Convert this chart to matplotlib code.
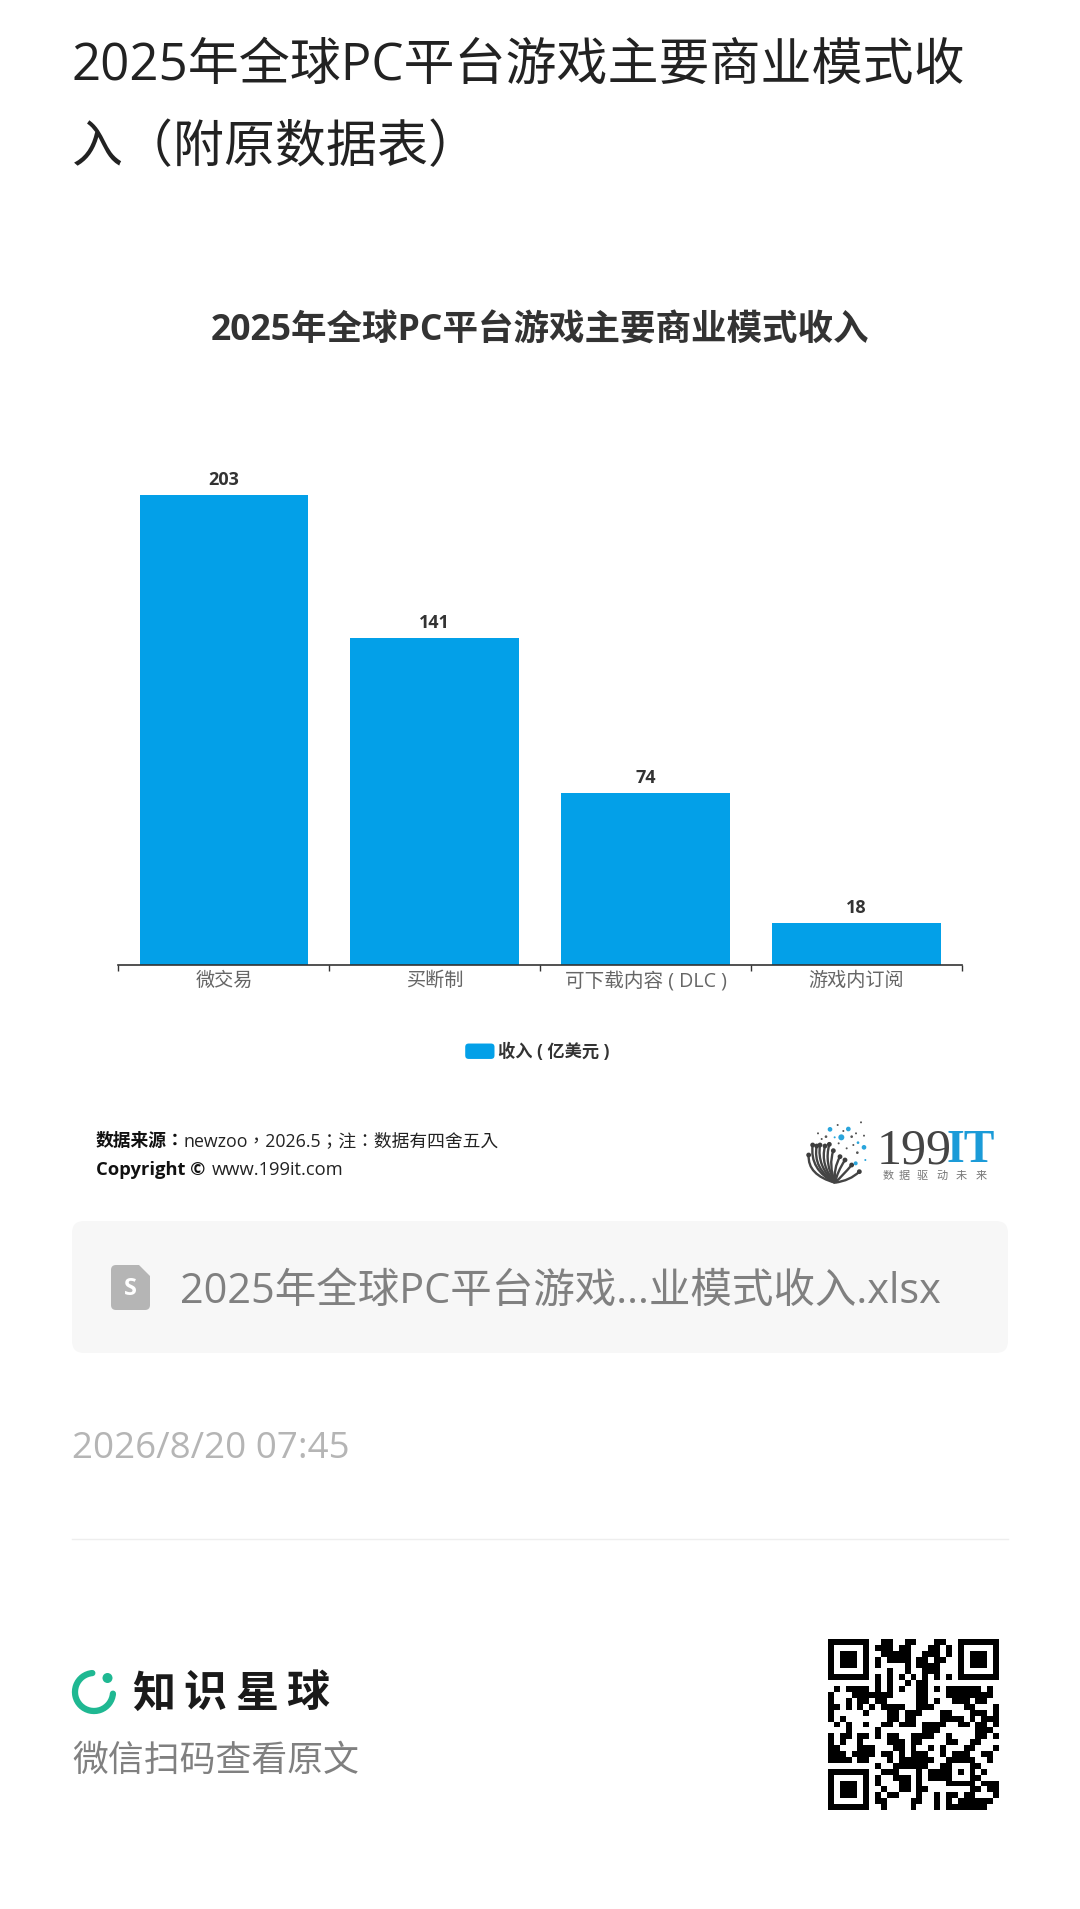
import matplotlib
matplotlib.use("Agg")
import matplotlib.pyplot as plt
from matplotlib.legend_handler import HandlerPatch
from matplotlib.patches import FancyBboxPatch, Arc, Circle, Polygon, PathPatch, Rectangle
from matplotlib.path import Path
import numpy as np

plt.rcParams['font.family'] = ['Open Sans', 'Noto Sans CJK SC', 'DejaVu Sans']
FUENTE_TC = ['Open Sans', 'Noto Sans CJK TC', 'DejaVu Sans']

# datos del grafico
categorias = ["微交易", "买断制", "可下载内容 ( DLC )", "游戏内订阅"]
ingresos = [203, 141, 74, 18]
leyenda = "收入 ( 亿美元 )"
titulo_pagina = ["2025年全球PC平台游戏主要商业模式收", "入（附原数据表）"]
titulo_grafico = "2025年全球PC平台游戏主要商业模式收入"
archivo = "2025年全球PC平台游戏...业模式收入.xlsx"
fecha = "2026/8/20 07:45"

# filas del codigo QR: columnas negras (sin los tres cuadros de las esquinas)
qr_filas = [
    [9, 10, 13, 14, 18, 19],
    [8, 9, 10, 12, 13, 17, 18, 20],
    [9, 10, 11, 12, 13, 16, 17, 18, 20],
    [8, 10, 11, 12, 13, 15, 16, 18, 19],
    [8, 13, 15, 16, 17, 18],
    [10, 13, 16, 17, 18],
    [8, 10, 12, 14, 16, 18, 20],
    [8, 10, 13, 15, 16],
    [1, 3, 4, 5, 6, 8, 10, 12, 15, 16, 18, 20, 21, 22, 23, 24, 25, 27],
    [0, 4, 5, 6, 7, 8, 9, 10, 15, 16, 20, 21, 22, 23, 24, 25, 26, 27],
    [0, 3, 5, 6, 8, 9, 15, 16, 18, 21, 22, 23, 25, 26],
    [0, 1, 3, 5, 7, 9, 10, 11, 12, 15, 16, 17, 23, 24, 28],
    [0, 6, 10, 11, 13, 14, 15, 19, 20, 24, 25, 26, 28],
    [0, 2, 10, 11, 13, 14, 19, 20, 21, 22, 24, 26, 27, 28],
    [1, 3, 6, 9, 10, 12, 13, 14, 16, 17, 18, 19, 22, 23, 25, 26, 28],
    [3, 8, 16, 17, 18, 25, 26, 27],
    [0, 2, 3, 5, 6, 8, 10, 11, 14, 15, 16, 17, 20, 25, 26, 28],
    [0, 2, 5, 10, 11, 12, 14, 15, 20, 21, 24, 25],
    [0, 1, 5, 6, 7, 11, 12, 14, 17, 19, 23, 24, 28],
    [0, 1, 2, 4, 5, 6, 7, 9, 10, 12, 14, 15, 16, 19, 21, 22, 23, 26, 27],
    [0, 1, 2, 3, 5, 6, 10, 12, 13, 14, 15, 16, 17, 20, 21, 22, 23, 24, 27],
    [8, 11, 12, 13, 14, 15, 16, 19, 20, 24, 25],
    [9, 10, 11, 15, 17, 18, 19, 20, 22, 24, 26],
    [8, 11, 12, 13, 15, 17, 18, 19, 20, 24, 25],
    [8, 12, 13, 15, 20, 21, 22, 23, 24, 26, 27, 28],
    [9, 12, 13, 15, 16, 24, 25, 27, 28],
    [8, 10, 11, 15, 18, 20, 21, 23, 24, 28],
    [8, 9, 14, 15, 18, 20, 22, 23, 24, 25, 26, 27],
    [9, 14, 18, 20, 21, 22, 23, 24, 25, 26],
]

# logo 199IT, en pixeles del recorte
logo_azul = [(90, 58, 7), (145, 57, 7), (124, 82, 9), (192, 112, 7), (167, 160, 6), (174, 98, 4), (104, 82, 3), (196, 150, 3)]
logo_gris = [(113, 45, 3), (183, 37, 3), (130, 63, 3), (192, 77, 3), (78, 80, 4), (54, 70, 3), (155, 80, 4), (168, 70, 3),
             (160, 105, 3), (116, 100, 3), (140, 115, 3), (172, 128, 4), (65, 87, 3)]
logo_tallos = [(26, 135, 22, 195), (38, 105, 28, 180), (50, 108, 38, 175), (60, 105, 50, 170), (75, 108, 60, 165),
               (88, 103, 72, 160), (100, 122, 85, 165), (120, 140, 100, 175), (135, 150, 112, 185),
               (155, 165, 130, 195), (178, 185, 150, 212)]

W, H = 1080, 1909
AZUL = "#03a0e8"

fig = plt.figure(figsize=(W / 100, H / 100), dpi=100, facecolor="white")

# capa de fondo en pixeles
fondo = fig.add_axes([0, 0, 1, 1])
fondo.axis("off")


def texto(x, y, s, size, color, **kw):
    kw.setdefault("va", "center")
    return fondo.text(x, y, s, fontsize=size, color=color, **kw)


def cuadro_qr():
    m = np.zeros((29, 29))
    for r, cols in enumerate(qr_filas):
        m[r, cols] = 1
    for r0, c0 in [(0, 0), (0, 22), (22, 0)]:
        m[r0:r0 + 7, c0:c0 + 7] = 1
        m[r0 + 1:r0 + 6, c0 + 1:c0 + 6] = 0
        m[r0 + 2:r0 + 5, c0 + 2:c0 + 5] = 1
    fondo.imshow(m, cmap="gray_r", vmin=0, vmax=1, extent=(828, 999, 1810, 1639), aspect="auto", interpolation="nearest")


def logo_199it():
    lx = lambda v: 800 + v / 3
    ly = lambda v: 1110 + v / 3
    for hx, hy, cx, cy in logo_tallos:
        camino = Path([(lx(105), ly(218)), (lx(cx), ly(cy)), (lx(hx), ly(hy))], [Path.MOVETO, Path.CURVE3, Path.CURVE3])
        fondo.add_patch(PathPatch(camino, fc="none", ec="#444444", lw=1.7))
        fondo.add_patch(Circle((lx(hx), ly(hy)), 2.4, fc="#3d3d3d", ec="none"))
    for x, y, r in logo_azul:
        fondo.add_patch(Circle((lx(x), ly(y)), r / 3, fc="#2aa5dc", ec="none"))
    for x, y, r in logo_gris:
        fondo.add_patch(Circle((lx(x), ly(y)), r / 3, fc="#555555", ec="none"))
    texto(914, 1151, "199", 36, "#444444", family="Liberation Serif", ha="center")
    texto(971, 1151, "IT", 33, "#1b9bd8", family="Liberation Serif", ha="center", fontweight="bold")
    for cx, c in zip([888, 904, 922, 942, 961, 981], "数据驱动未来"):
        texto(cx, 1176, c, 8, "#777777", ha="center")


def muestra_redonda(legend, orig_handle, xdescent, ydescent, width, height, fontsize):
    return FancyBboxPatch((-xdescent + 2, -ydescent + 2), width - 4, height - 4, boxstyle="round,pad=2,rounding_size=2.5")


# titulo de la pagina
texto(72, 66, titulo_pagina[0], 36.7, "#222222")
texto(72, 149, titulo_pagina[1], 36.7, "#222222")

# titulo del grafico
texto(540, 331.5, titulo_grafico, 25.6, "#333333", ha="center", fontweight="bold")

# pie del grafico
texto(95.5, 1141, "数据来源：", 12.8, "#111111", fontweight="bold", family=FUENTE_TC)
texto(183.5, 1141, "newzoo，2026.5；注：数据有四舍五入", 12.8, "#222222", family=FUENTE_TC)
texto(95.5, 1170, "Copyright ©", 13.2, "#111111", fontweight="bold")
texto(212, 1170, "www.199it.com", 13.2, "#222222")
logo_199it()

# tarjeta del archivo
fondo.add_patch(FancyBboxPatch((82, 1231), 916, 112, boxstyle="round,pad=10,rounding_size=12", fc="#f7f7f7", ec="none"))
fondo.add_patch(FancyBboxPatch((115, 1269), 31, 37, boxstyle="round,pad=4,rounding_size=5", fc="#b5b5b5", ec="none"))
fondo.add_patch(Polygon([(137, 1263), (152, 1263), (152, 1278)], fc="#f7f7f7", ec="none"))
texto(130.5, 1289, "S", 17, "white", ha="center", fontweight="bold")
texto(180, 1292, archivo, 29.9, "#808080")

# fecha y separador
texto(72, 1449, fecha, 26.5, "#b5b5b5")
fondo.plot([72, 1008], [1539, 1539], color="#eeeeee", lw=1)

# marca
fondo.add_patch(Arc((94, 1692), 38, 38, theta1=5, theta2=265, color="#1fb892", lw=4.5, capstyle="round"))
fondo.add_patch(Circle((107.5, 1678), 5, fc="#1fb892", ec="none"))
for cx, c in zip([154, 205, 257, 308], "知识星球"):
    texto(cx, 1695, c, 31, "#1a1a1a", ha="center", fontweight="bold")
texto(72, 1762, "微信扫码查看原文", 25.8, "#808080")
cuadro_qr()

fondo.set_xlim(0, W)
fondo.set_ylim(H, 0)

# grafico de barras
ax = fig.add_axes([118.5 / W, 1 - 964.5 / H, 843.5 / W, 564.5 / H])
ax.patch.set_alpha(0)
barras = ax.bar(range(len(categorias)), ingresos, width=0.8, color=AZUL)
ax.bar_label(barras, padding=4.5, fontsize=13, fontweight="bold", color="#333333")
ax.set_xlim(-0.5, 3.5)
ax.set_ylim(0, 244)
ax.set_yticks([])
ax.set_xticks([-0.5, 0.5, 1.5, 2.5, 3.5])
ax.set_xticklabels([])
ax.tick_params(axis="x", which="major", length=4.5, width=1, color="#333333")
ax.set_xticks(range(len(categorias)), minor=True)
etiquetas = ax.set_xticklabels(categorias, minor=True, fontsize=13.8, color="#666666")
etiquetas[2].set_fontsize(14.1)
ax.tick_params(axis="x", which="minor", length=0, pad=5.2)
for lado in ["top", "left", "right"]:
    ax.spines[lado].set_visible(False)
ax.spines["bottom"].set_color("#333333")
ax.spines["bottom"].set_linewidth(1.2)

fig.legend([barras[0]], [leyenda], loc="center", bbox_to_anchor=(537.5 / W, 1 - 1052 / H), frameon=False,
           prop={"weight": "bold", "size": 12.4}, handlelength=1.7, handleheight=1.0, handletextpad=0.22, labelcolor="#333333",
           handler_map={Rectangle: HandlerPatch(patch_func=muestra_redonda)})

fig.savefig("out.png", dpi=100)
plt.close(fig)
